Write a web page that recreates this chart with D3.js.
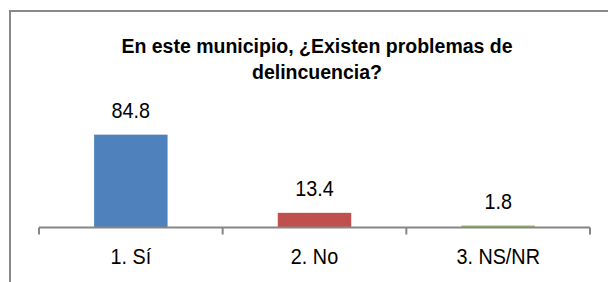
<!DOCTYPE html>
<html>
<head>
<meta charset="utf-8">
<script src="https://cdn.jsdelivr.net/npm/d3@7"></script>
<style>
  body { margin: 0; background: #fff; }
  svg text { font-family: "Liberation Sans", Arial, sans-serif; fill: #000; }
</style>
</head>
<body>
<div id="chart"></div>
<script>
// Datos del gráfico
const categorias = ['1. Sí', '2. No', '3. NS/NR'];
const valores = [84.8, 13.4, 1.8];
const colores = ['#4F81BD', '#C0504D', '#9BBB59'];
const tituloLineas = ['En este municipio, ¿Existen problemas de', 'delincuencia?'];

const width = 608, height = 282;

const svg = d3.select('#chart')
  .append('svg')
  .attr('width', width)
  .attr('height', height);

// Marco del gráfico (cortado a la derecha y abajo)
svg.append('rect')
  .attr('x', 10)
  .attr('y', 11)
  .attr('width', 620)
  .attr('height', 300)
  .attr('fill', 'none')
  .attr('stroke', '#898989')
  .attr('stroke-width', 2);

// Título
svg.append('text')
  .attr('x', 317)
  .attr('y', 53)
  .attr('text-anchor', 'middle')
  .style('font-size', '19.5px')
  .style('font-weight', 'bold')
  .selectAll('tspan')
  .data(tituloLineas)
  .enter()
  .append('tspan')
  .attr('x', 317)
  .attr('dy', (d, i) => i === 0 ? 0 : 26)
  .text(d => d);

// Escalas
const ejeY = 227.5;
const x = d3.scaleBand()
  .domain(categorias)
  .range([39, 590])
  .padding(0);

const y = d3.scaleLinear()
  .domain([0, 100])
  .range([ejeY, ejeY - 109.5]);

const anchoBarra = x.bandwidth() * 0.4;

// Barras
svg.selectAll('.bar')
  .data(valores)
  .enter()
  .append('rect')
  .attr('class', 'bar')
  .attr('x', (d, i) => x(categorias[i]) + (x.bandwidth() - anchoBarra) / 2)
  .attr('y', d => y(d))
  .attr('width', anchoBarra)
  .attr('height', d => ejeY - y(d))
  .attr('fill', (d, i) => colores[i]);

// Etiquetas de valores (texto algo estrecho, como en el original)
svg.selectAll('.valor')
  .data(valores)
  .enter()
  .append('text')
  .attr('class', 'valor')
  .attr('transform', (d, i) => `translate(${x(categorias[i]) + x.bandwidth() / 2},${y(d) - 17}) scale(0.9,1)`)
  .attr('text-anchor', 'middle')
  .style('font-size', '22px')
  .text(d => d.toFixed(1));

// Eje X
const eje = svg.append('g')
  .attr('transform', `translate(0,${ejeY})`);

eje.append('line')
  .attr('x1', 39)
  .attr('x2', 590)
  .attr('stroke', '#868686')
  .attr('stroke-width', 2);

const bordes = categorias.map(c => x(c)).concat([x.range()[1]]);
eje.selectAll('.tick')
  .data(bordes)
  .enter()
  .append('line')
  .attr('x1', d => d)
  .attr('x2', d => d)
  .attr('y1', 0)
  .attr('y2', 7)
  .attr('stroke', '#868686')
  .attr('stroke-width', 2);

eje.selectAll('.cat')
  .data(categorias)
  .enter()
  .append('text')
  .attr('class', 'cat')
  .attr('transform', d => `translate(${x(d) + x.bandwidth() / 2},36) scale(0.9,1)`)
  .attr('text-anchor', 'middle')
  .style('font-size', '22px')
  .text(d => d);
</script>
</body>
</html>
